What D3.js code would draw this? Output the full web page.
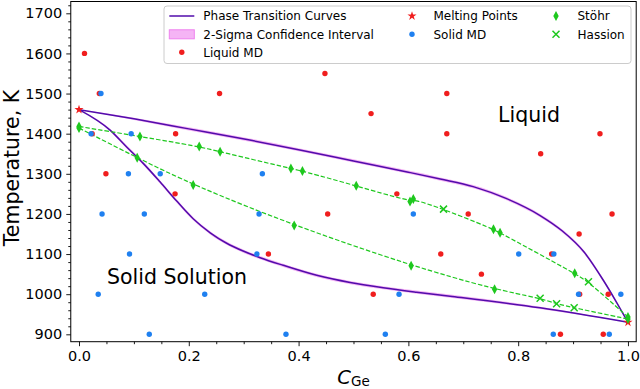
<!DOCTYPE html>
<html>
<head>
<meta charset="utf-8">
<script src="https://cdn.jsdelivr.net/npm/d3@7"></script>
<style>
  body { margin: 0; background: #fff; }
  text { font-family: "DejaVu Sans", sans-serif; }
</style>
</head>
<body>
<svg id="chart" width="640" height="389"></svg>
<script>
// phase transition curves (MD fit)
var liqC = [0, 0.1, 0.2, 0.311, 0.4, 0.5, 0.6, 0.658, 0.718, 0.779, 0.84, 0.88, 0.92, 0.9545, 0.98, 1.0];
var liqT = [1460, 1437, 1412, 1384, 1360, 1332, 1304, 1287, 1268, 1238, 1196, 1158, 1105, 1036, 978, 930];
var liqSig = [0, 3, 4, 4, 4, 4, 4, 4, 4, 4, 4, 4, 4, 4, 3, 0];
var solC = [0, 0.0565, 0.0868, 0.117, 0.1475, 0.178, 0.208, 0.239, 0.269, 0.299, 0.33, 0.372, 0.433,
  0.494, 0.554, 0.615, 0.676, 0.84, 1.0];
var solT = [1460, 1409, 1367, 1326, 1280, 1232, 1188, 1153, 1127, 1107.5, 1091, 1072, 1047,
  1029, 1016, 1005, 995, 966, 930];
var solSig = [0, 3, 4, 4, 4, 4, 4, 4, 4, 4, 4, 4, 4, 4, 4, 4, 4, 3, 0];

var meltPts = [[0, 1460], [1, 930]];

var liquidMD = [[0.010, 1600], [0.037, 1500], [0.256, 1500], [0.024, 1400], [0.176, 1400],
  [0.049, 1300], [0.175, 1250], [0.345, 1100], [0.448, 1550], [0.532, 1450], [0.670, 1500],
  [0.670, 1400], [0.579, 1250], [0.453, 1200], [0.659, 1100], [0.536, 1000], [0.949, 1400],
  [0.841, 1350], [0.709, 1200], [0.971, 1200], [0.911, 1150], [0.733, 1050], [0.861, 1100],
  [0.912, 1000], [0.964, 1000], [0.877, 900], [0.955, 900]];
var solidMD = [[0.040, 1500], [0.022, 1400], [0.095, 1400], [0.090, 1300], [0.148, 1300],
  [0.334, 1300], [0.042, 1200], [0.119, 1200], [0.328, 1200], [0.609, 1200], [0.092, 1100],
  [0.324, 1100], [0.801, 1100], [0.865, 1100], [0.035, 1000], [0.229, 1000], [0.583, 1000],
  [0.910, 1000], [0.987, 1000], [0.128, 900], [0.377, 900], [0.558, 900], [0.864, 900], [0.966, 900]];

var stohrUp = [[0, 1418], [0.111, 1393], [0.219, 1368], [0.257, 1355], [0.386, 1313], [0.407, 1307],
  [0.505, 1270], [0.603, 1231], [0.609, 1237], [0.755, 1162], [0.767, 1153], [0.903, 1052], [1.0, 943]];
var stohrLow = [[0, 1414], [0.106, 1340], [0.208, 1272], [0.392, 1171], [0.605, 1071], [0.757, 1012], [1.0, 938]];
var hassionUp = [[0.664, 1212], [0.928, 1031]];
var hassionLow = [[0.840, 990], [0.870, 976], [0.902, 966]];

var yTicks = [900, 1000, 1100, 1200, 1300, 1400, 1500, 1600, 1700];
var xTicks = [0, 0.2, 0.4, 0.6, 0.8, 1.0];

var legendItems = [
  ["line", "Phase Transition Curves"], ["band", "2-Sigma Confidence Interval"], ["liq", "Liquid MD"],
  ["star", "Melting Points"], ["sol", "Solid MD"],
  ["diamond", "Stöhr"], ["cross", "Hassion"]
];

var purple = "#520cab", violet = "#ee82ee", red = "#f01e1e", blue = "#1f80f0", green = "#1ec81e";

var svg = d3.select("#chart");
var x = d3.scaleLinear().domain([-0.015, 1.015]).range([70.77, 636.2]);
var y = d3.scaleLinear().domain([881.6, 1729.4]).range([341.7, 1.5]);

var plot = svg.append("g");

// confidence bands + curves
function curve(cs, ts, sg) {
  var pts = cs.map(function(c, i) { return {c: c, t: ts[i], s: sg[i]}; });
  plot.append("path")
    .attr("d", d3.area().curve(d3.curveMonotoneX)
      .x(function(d) { return x(d.c); })
      .y0(function(d) { return y(d.t - d.s); })
      .y1(function(d) { return y(d.t + d.s); })(pts))
    .attr("fill", violet).attr("fill-opacity", 0.6);
  plot.append("path")
    .attr("d", d3.line().curve(d3.curveMonotoneX)
      .x(function(d) { return x(d.c); })
      .y(function(d) { return y(d.t); })(pts))
    .attr("fill", "none").attr("stroke", purple).attr("stroke-width", 1.5);
}
curve(liqC, liqT, liqSig);
curve(solC, solT, solSig);

// experimental dashed guides
function dashed(a, b) {
  var pts = a.concat(b).sort(function(p, q) { return p[0] - q[0]; });
  plot.append("path")
    .attr("d", d3.line().curve(d3.curveBasis)
      .x(function(d) { return x(d[0]); })
      .y(function(d) { return y(d[1]); })(pts))
    .attr("fill", "none").attr("stroke", green).attr("stroke-width", 1.2)
    .attr("stroke-dasharray", "4.5,2");
}
dashed(stohrUp, hassionUp);
dashed(stohrLow, hassionLow);

function dots(data, col) {
  plot.selectAll(null).data(data).enter().append("circle")
    .attr("cx", function(d) { return x(d[0]); })
    .attr("cy", function(d) { return y(d[1]); })
    .attr("r", 2.7).attr("fill", col);
}
dots(liquidMD, red);

var star = d3.symbol().type(d3.symbolStar).size(26)();
function stars(g, data) {
  g.selectAll(null).data(data).enter().append("path")
    .attr("d", star)
    .attr("transform", function(d) { return "translate(" + x(d[0]) + "," + y(d[1]) + ")"; })
    .attr("fill", red);
}
stars(plot, meltPts);
dots(solidMD, blue);

var diamondPath = "M0,-5L2.7,0L0,5L-2.7,0Z";
function diamonds(data) {
  plot.selectAll(null).data(data).enter().append("path")
    .attr("d", diamondPath)
    .attr("transform", function(d) { return "translate(" + x(d[0]) + "," + y(d[1]) + ")"; })
    .attr("fill", green);
}
diamonds(stohrUp.concat(stohrLow));

var crossPath = "M-3.5,-3.5L3.5,3.5M-3.5,3.5L3.5,-3.5";
function crosses(data) {
  plot.selectAll(null).data(data).enter().append("path")
    .attr("d", crossPath)
    .attr("transform", function(d) { return "translate(" + x(d[0]) + "," + y(d[1]) + ")"; })
    .attr("stroke", green).attr("stroke-width", 1.5).attr("fill", "none");
}
crosses(hassionUp.concat(hassionLow));

// region labels
svg.append("text").attr("x", 529).attr("y", 122).attr("text-anchor", "middle")
  .style("font-size", "20.5px").text("Liquid");
svg.append("text").attr("x", 177).attr("y", 284).attr("text-anchor", "middle")
  .style("font-size", "20.5px").text("Solid Solution");

// axes
var yMinor = d3.range(900, 1730, 20).filter(function(v) { return v % 100 !== 0; });
var xMinor = d3.range(0, 1.01, 0.05).filter(function(v, i) { return i % 4 !== 0; });

svg.append("g").attr("transform", "translate(70.77,0)")
  .call(d3.axisLeft(y).tickValues(yTicks).tickSize(4.5).tickPadding(4).tickFormat(d3.format("d")));
svg.append("g").attr("transform", "translate(70.77,0)")
  .call(d3.axisLeft(y).tickValues(yMinor).tickSize(2.5).tickFormat(""));
svg.append("g").attr("transform", "translate(0,341.7)")
  .call(d3.axisBottom(x).tickValues(xTicks).tickSize(4.5).tickPadding(5).tickFormat(d3.format(".1f")));
svg.append("g").attr("transform", "translate(0,341.7)")
  .call(d3.axisBottom(x).tickValues(xMinor).tickSize(2.5).tickFormat(""));
svg.selectAll(".domain").remove();
svg.selectAll(".tick text").style("font-size", "14.5px").attr("fill", "#000")
  .style("font-family", "DejaVu Sans");
svg.selectAll(".tick line").attr("stroke", "#000").attr("stroke-width", 0.9);

svg.append("rect").attr("x", 70.77).attr("y", 1.5).attr("width", 636.2 - 70.77).attr("height", 341.7 - 1.5)
  .attr("fill", "none").attr("stroke", "#000").attr("stroke-width", 1);

svg.append("text").attr("transform", "translate(19,168) rotate(-90)").attr("text-anchor", "middle")
  .style("font-size", "20.5px").text("Temperature, K");

var xl = svg.append("text").attr("x", 353.5).attr("y", 383.5).attr("text-anchor", "middle");
xl.append("tspan").style("font-size", "19.5px").style("font-style", "italic").text("C");
xl.append("tspan").style("font-size", "13.5px").attr("dy", 2).text("Ge");

// legend
var lg = svg.append("g");
lg.append("rect").attr("x", 164).attr("y", 6).attr("width", 467).attr("height", 57.5)
  .attr("rx", 3).attr("fill", "#fff").attr("fill-opacity", 0.8).attr("stroke", "#cccccc");
var colX = [169.3, 399.5, 543.5], rowY = [16, 34.3, 52.3];
var perCol = [3, 2, 2], idx = 0;
perCol.forEach(function(n, ci) {
  for (var r = 0; r < n; r++) {
    var it = legendItems[idx++];
    var hx = colX[ci], hy = rowY[r], cx = hx + 12.5;
    var g = lg.append("g");
    if (it[0] === "line") {
      g.append("line").attr("x1", hx).attr("x2", hx + 25).attr("y1", hy).attr("y2", hy)
        .attr("stroke", purple).attr("stroke-width", 1.5);
    } else if (it[0] === "band") {
      g.append("rect").attr("x", hx).attr("y", hy - 4.5).attr("width", 25).attr("height", 9)
        .attr("fill", violet).attr("fill-opacity", 0.6).attr("stroke", violet);
    } else if (it[0] === "liq" || it[0] === "sol") {
      g.append("circle").attr("cx", cx).attr("cy", hy).attr("r", 2.7)
        .attr("fill", it[0] === "liq" ? red : blue);
    } else if (it[0] === "star") {
      g.append("path").attr("d", star).attr("transform", "translate(" + cx + "," + hy + ")").attr("fill", red);
    } else if (it[0] === "diamond") {
      g.append("path").attr("d", diamondPath).attr("transform", "translate(" + cx + "," + hy + ")").attr("fill", green);
    } else {
      g.append("path").attr("d", crossPath).attr("transform", "translate(" + cx + "," + hy + ")")
        .attr("stroke", green).attr("stroke-width", 1.5);
    }
    g.append("text").attr("x", hx + 34).attr("y", hy + 4.3).style("font-size", "12px").text(it[1]);
  }
});
</script>
</body>
</html>
